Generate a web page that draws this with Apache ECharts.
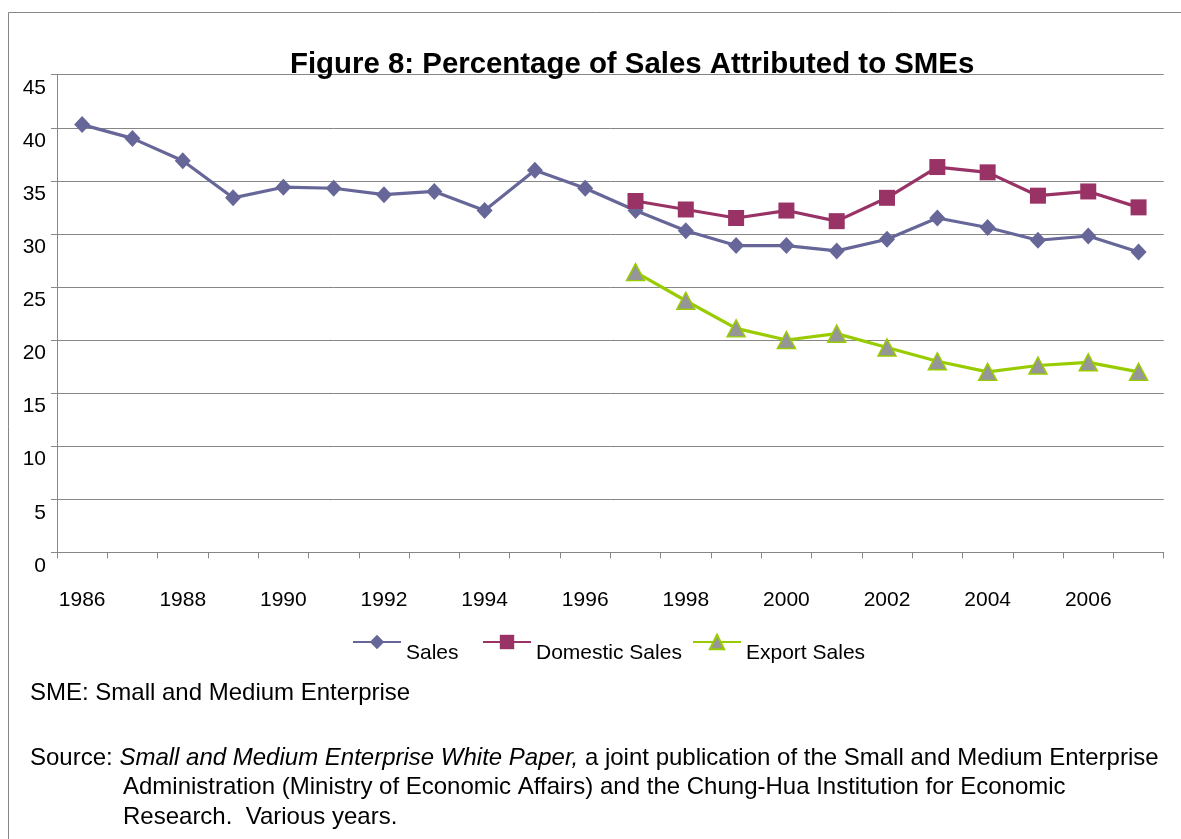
<!DOCTYPE html>
<html><head><meta charset="utf-8">
<script src="https://cdn.jsdelivr.net/npm/echarts@6/dist/echarts.min.js"></script>
<style>html,body{margin:0;padding:0;background:#fff}#c{width:1181px;height:839px}</style>
</head><body><div id="c"></div>
<script>
const years = ['1986','1987','1988','1989','1990','1991','1992','1993','1994','1995','1996','1997','1998','1999','2000','2001','2002','2003','2004','2005','2006','2007'];
const sales = [40.3,39.0,36.9,33.4,34.4,34.3,33.7,34.0,32.2,36.0,34.3,32.2,30.3,28.9,28.9,28.4,29.5,31.5,30.6,29.4,29.8,28.3];
const domesticSales = [null,null,null,null,null,null,null,null,null,null,null,33.1,32.3,31.5,32.2,31.2,33.4,36.3,35.8,33.6,34.0,32.5];
const exportSales = [null,null,null,null,null,null,null,null,null,null,null,26.4,23.7,21.1,20.0,20.6,19.3,18.0,17.0,17.6,17.9,17.0];
const seriesNames = ['Sales','Domestic Sales','Export Sales'];
const titleText = 'Figure 8: Percentage of Sales Attributed to SMEs';
const noteText = 'SME: Small and Medium Enterprise';
const sourceLine1a = 'Source: ';
const sourceLine1b = 'Small and Medium Enterprise White Paper,';
const sourceLine1c = ' a joint publication of the Small and Medium Enterprise';
const sourceLine2 = 'Administration (Ministry of Economic Affairs) and the Chung-Hua Institution for Economic';
const sourceLine3 = 'Research.  Various years.';

const FONT = 'Liberation Sans, Arial, sans-serif';
const GRAY = '#868686';
const chart = echarts.init(document.getElementById('c'), null, {renderer:'canvas'});

function legendFor(name, left){
  return {
    data:[name], left:left, top:620, padding:0, itemWidth:48, itemHeight:18, itemGap:0,
    formatter: function(n){ return '\n' + n; },
    textStyle:{fontFamily:FONT, fontSize:21, lineHeight:22, color:'#000'},
    selectedMode:false
  };
}

chart.setOption({
  animation:false,
  backgroundColor:'#fff',
  title:{text:titleText, left:290, top:50, padding:0, textStyle:{fontFamily:FONT, fontSize:29.4, fontWeight:'bold', color:'#000'}},
  legend:[legendFor(seriesNames[0],352), legendFor(seriesNames[1],482), legendFor(seriesNames[2],692)],
  grid:{left:57, right:17.3, top:74.7, bottom:286.7, containLabel:false},
  xAxis:{
    type:'category', data:years, boundaryGap:true,
    axisLine:{show:true, lineStyle:{color:GRAY, width:1}},
    axisTick:{show:true, interval:0, length:6, alignWithLabel:false, lineStyle:{color:GRAY}},
    axisLabel:{interval:1, margin:37, fontFamily:FONT, fontSize:21, color:'#000'},
    splitLine:{show:false}
  },
  yAxis:{
    type:'value', min:0, max:45, interval:5,
    axisLine:{show:true, lineStyle:{color:GRAY, width:1}},
    axisTick:{show:true, length:6, lineStyle:{color:GRAY}},
    axisLabel:{margin:11, fontFamily:FONT, fontSize:21, color:'#000', verticalAlign:'top', padding:[3,0,0,0]},
    splitLine:{show:true, lineStyle:{color:GRAY, width:1}}
  },
  series:[
    {name:seriesNames[0], type:'line', data:sales, symbol:'diamond', symbolSize:[16,17], connectNulls:false,
     lineStyle:{color:'#666699', width:3.2}, itemStyle:{color:'#666699'}},
    {name:seriesNames[1], type:'line', data:domesticSales, symbol:'rect', symbolSize:16,
     lineStyle:{color:'#993366', width:3.2}, itemStyle:{color:'#993366'}},
    {name:seriesNames[2], type:'line', data:exportSales, symbol:'triangle', symbolSize:[18,17],
     lineStyle:{color:'#99CC00', width:3.2}, itemStyle:{color:'#969696', borderColor:'#99CC00', borderWidth:1.5}}
  ],
  graphic:[
    {type:'rect', shape:{x:8.5, y:12.5, width:1300, height:1000}, style:{fill:null, stroke:GRAY, lineWidth:1}, silent:true, z:-1},
    {type:'text', x:30, y:693, style:{text:noteText, font:'24px '+FONT, fill:'#000', textVerticalAlign:'middle'}},
    {type:'text', x:30, y:758, style:{
      text:'{n|'+sourceLine1a+'}{i|'+sourceLine1b+'}{n|'+sourceLine1c+'}',
      textVerticalAlign:'middle', fill:'#000',
      rich:{n:{fontFamily:FONT, fontSize:24, fill:'#000'}, i:{fontFamily:FONT, fontSize:24, fontStyle:'italic', fill:'#000'}}
    }},
    {type:'text', x:123, y:787, style:{text:sourceLine2, font:'24px '+FONT, fill:'#000', textVerticalAlign:'middle'}},
    {type:'text', x:123, y:817, style:{text:sourceLine3, font:'24px '+FONT, fill:'#000', textVerticalAlign:'middle'}}
  ]
});
</script></body></html>
